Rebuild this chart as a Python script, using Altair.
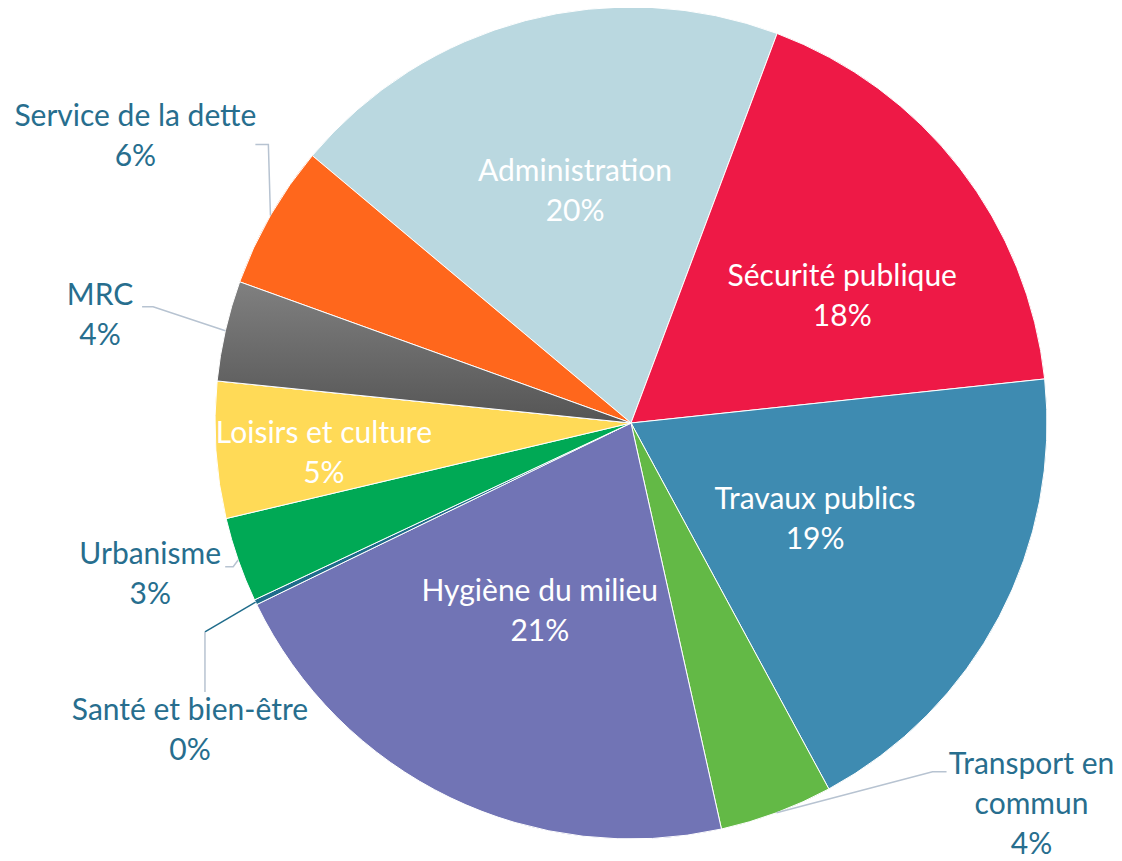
import math
import altair as alt
import pandas as pd

# ---- data ----
categories = ["Administration", "Sécurité publique", "Travaux publics",
              "Transport en commun", "Hygiène du milieu", "Santé et bien-être",
              "Urbanisme", "Loisirs et culture", "MRC", "Service de la dette"]
shares = [19.6, 17.6, 18.8, 4.4, 21.3, 0.2, 3.3, 5.3, 3.9, 5.6]
label_names = ["Administration", "Sécurité publique", "Travaux publics",
               "Transport en\ncommun", "Hygiène du milieu", "Santé et bien-être",
               "Urbanisme", "Loisirs et culture", "MRC", "Service de la dette"]

# ---- style ----
colors = ["#BAD8E0", "#EE1946", "#3E8BB1", "#63B946", "#7174B5", "#1F6C8B",
          "#00A955", "#FFDA57", "#6A6A6A", "#FF671C"]
inside = [True, True, True, False, True, False, False, True, False, False]
INSIDE_COLOR = "#FFFFFF"
OUTSIDE_COLOR = "#276E8E"
LEADER_COLOR = "#B7C3D1"
FONT = "Lato"
FONT_SIZE = 30
LINE_HEIGHT = 40

# ---- layout ----
W, H = 1106, 853
CX, CY, R = 623, 415, 416
START_DEG = 310.0
# label placement: (angle offset from slice middle in degrees, radius factor)
label_place = [(1.1, 0.571), (7.0, 0.591), (0.0, 0.50), (-25.9, 1.33), (0.0, 0.504),
               (-9.4, 1.293), (1.7, 1.212), (-2.1, 0.742), (-1.4, 1.302), (0.1, 1.376)]
# leader lines for outside labels: (end offset, elbow offset) from label centre
leaders = {
    "Service de la dette": ((120, 8), (133, 8)),
    "MRC": ((42, -9), (53, -9)),
    "Urbanisme": ((75, -8), (83, -8)),
    "Santé et bien-être": ((15, -39), (15, -99)),
    "Transport en commun": ((-85, -33), (-99, -33)),
}

total = sum(shares)
cum = []
c = 0.0
for v in shares:
    cum.append((c, c + v))
    c += v

def polar(deg, r):
    a = math.radians(deg)
    return CX + r * math.sin(a), CY - r * math.cos(a)

rows = []
lines = []
for i, cat in enumerate(categories):
    c0, c1 = cum[i]
    mid = START_DEG + (c0 + c1) / 2 / total * 360
    dang, rf = label_place[i]
    lx, ly = polar(mid + dang, rf * R)
    pct = round(shares[i] / total * 100)
    text = f"{label_names[i]}\n{pct}%"
    nlines = text.count("\n") + 1
    rows.append(dict(category=cat, idx=i, c0=c0, c1=c1, lx=lx,
                     ly=ly - (nlines - 1) * LINE_HEIGHT / 2,
                     label=text,
                     tcolor=INSIDE_COLOR if inside[i] else OUTSIDE_COLOR))
    if cat in leaders:
        (ex, ey), (bx, by) = leaders[cat]
        sx, sy = polar(mid, R)
        pts = [(sx, sy), (lx + bx, ly + by), (lx + ex, ly + ey)]
        if cat == "Santé et bien-être":
            lines.append(dict(g=cat + "a", o=0, x=pts[0][0], y=pts[0][1], lc=colors[i]))
            lines.append(dict(g=cat + "a", o=1, x=pts[1][0], y=pts[1][1], lc=colors[i]))
            lines.append(dict(g=cat + "b", o=0, x=pts[1][0], y=pts[1][1], lc=LEADER_COLOR))
            lines.append(dict(g=cat + "b", o=1, x=pts[2][0], y=pts[2][1], lc=LEADER_COLOR))
        else:
            for k, (px, py) in enumerate(pts):
                lines.append(dict(g=cat, o=k, x=px, y=py, lc=LEADER_COLOR))

df = pd.DataFrame(rows)
ldf = pd.DataFrame(lines)

theta_scale = alt.Scale(domain=[0, total],
                        range=[math.radians(START_DEG), math.radians(START_DEG) + 2 * math.pi])
xs = alt.Scale(domain=[0, W], nice=False, zero=False)
ys = alt.Scale(domain=[H, 0], nice=False, zero=False)

pie = alt.Chart(df).mark_arc(outerRadius=R, stroke="#FFFFFF", strokeWidth=1).encode(
    theta=alt.Theta("c0:Q", scale=theta_scale),
    theta2="c1:Q",
    color=alt.Color("category:N", scale=alt.Scale(domain=categories, range=colors), legend=None),
    x=alt.value(CX), y=alt.value(CY),
)

mrc = alt.Chart(df).transform_filter(alt.datum.category == "MRC").mark_arc(
    outerRadius=R, stroke="#FFFFFF", strokeWidth=1,
    fill=alt.Gradient(gradient="linear",
                      stops=[alt.GradientStop(color="#808080", offset=0),
                             alt.GradientStop(color="#555555", offset=1)],
                      x1=0, x2=0, y1=0, y2=1),
).encode(
    theta=alt.Theta("c0:Q", scale=theta_scale),
    theta2="c1:Q",
    x=alt.value(CX), y=alt.value(CY),
)

leader = alt.Chart(ldf).mark_line(strokeWidth=1.5).encode(
    x=alt.X("x:Q", scale=xs, axis=None),
    y=alt.Y("y:Q", scale=ys, axis=None),
    detail="g:N",
    order="o:Q",
    color=alt.Color("lc:N", scale=None),
)

labels = alt.Chart(df).mark_text(font=FONT, fontSize=FONT_SIZE, lineBreak="\n",
                                  lineHeight=LINE_HEIGHT, align="center",
                                  baseline="middle").encode(
    x=alt.X("lx:Q", scale=xs, axis=None),
    y=alt.Y("ly:Q", scale=ys, axis=None),
    text="label:N",
    color=alt.Color("tcolor:N", scale=None),
)

chart = alt.layer(pie, mrc, leader, labels).properties(
    width=W, height=H, autosize=alt.AutoSizeParams(type="none"), padding=0,
).configure_view(stroke=None)

chart.save("out.html", embed_options={"renderer": "svg", "actions": False})
